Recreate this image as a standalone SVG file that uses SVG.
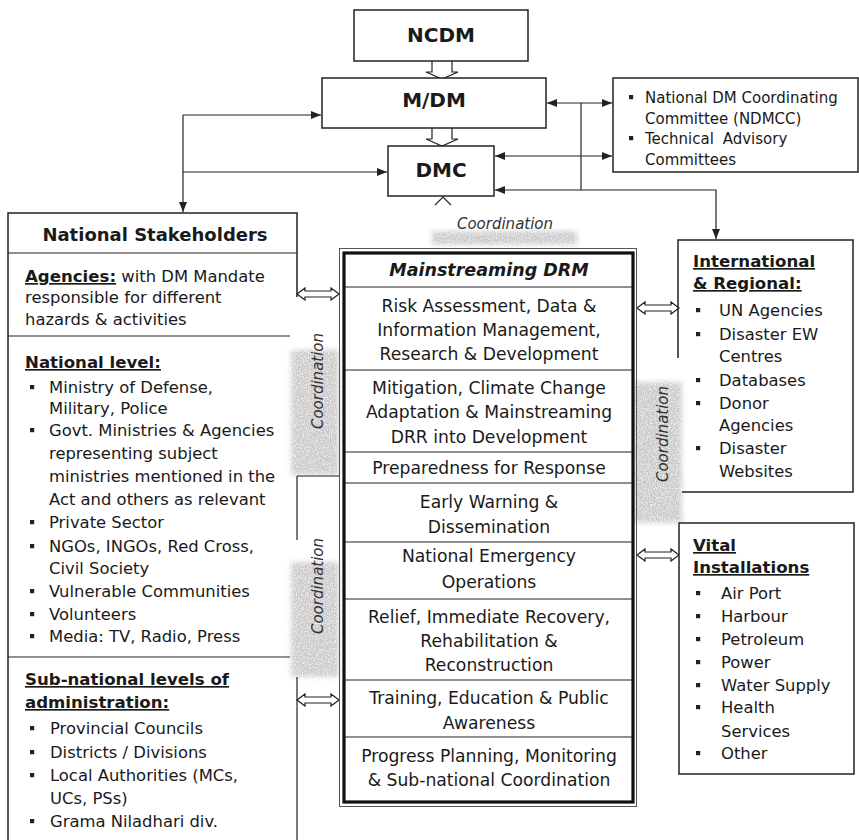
<svg xmlns="http://www.w3.org/2000/svg" width="859" height="840" viewBox="0 0 859 840">
<style>
text{font-family:'DejaVu Sans',Verdana,sans-serif;fill:#1a1a1a}
.box{fill:#fff;stroke:#222;stroke-width:1.5}
.ln{fill:none;stroke:#222;stroke-width:1.2}
.t{font-size:20px;font-weight:bold;text-anchor:middle}
.c{font-size:17.2px;text-anchor:middle}
.s{font-size:16.4px}
.h{font-size:16.6px;font-weight:bold;text-decoration:underline}
.n{font-size:15px}
.co{font-size:15px;font-style:italic;text-anchor:middle;fill:#333}
.sh{fill:#000;filter:url(#speck)}
.dbl{fill:#fff;stroke:#222;stroke-width:1.2}
</style>
<defs>
<filter id="speck" x="-20%" y="-20%" width="140%" height="140%">
<feGaussianBlur in="SourceAlpha" stdDeviation="2.5" result="a"/>
<feTurbulence type="fractalNoise" baseFrequency="0.85" numOctaves="2" seed="4" result="n"/>
<feColorMatrix in="n" type="matrix" values="0 0 0 0 0.58  0 0 0 0 0.58  0 0 0 0 0.58  0 0 0 -2.2 1.9" result="g"/>
<feComposite in="g" in2="a" operator="in"/>
</filter>
<marker id="ah" viewBox="0 0 10 8" refX="10" refY="4" markerWidth="10" markerHeight="8" markerUnits="userSpaceOnUse" orient="auto-start-reverse"><path d="M0,0 L10,4 L0,8 Z" fill="#222"/></marker>
<path id="dbl" d="M0,0 L8,-6 V-3 H34 V-6 L42,0 L34,6 V3 H8 V6 Z"/>
<rect id="b" x="-2" y="-2" width="4.2" height="4.2" fill="#222"/>
</defs>

<!-- shading -->
<g id="shading">
<rect class="sh" x="432" y="231" width="145" height="14"/>
<rect class="sh" x="291" y="350" width="48" height="125"/>
<rect class="sh" x="291" y="562" width="48" height="115"/>
<rect class="sh" x="634" y="382" width="48" height="141"/>
</g>

<g id="connectors">
<path class="ln" d="M183,115 H321" marker-end="url(#ah)"/>
<path class="ln" d="M183,172 H387" marker-end="url(#ah)"/>
<path class="ln" d="M183,115 V212" marker-end="url(#ah)"/>
<path class="ln" d="M547,103 H612" marker-start="url(#ah)" marker-end="url(#ah)"/>
<path class="ln" d="M495,156 H612" marker-start="url(#ah)" marker-end="url(#ah)"/>
<path class="ln" d="M581,103 V190"/>
<path class="ln" d="M495,190 H716 V239" marker-start="url(#ah)" marker-end="url(#ah)"/>
<path class="dbl" d="M432,61 V72 H426 L442,79 L458,72 H452 V61"/>
<path class="dbl" d="M432,128 V139 H426 L442,146 L458,139 H452 V128"/>
<path class="ln" d="M435,205 L443,197 L451,205"/>
<use href="#dbl" class="dbl" x="297" y="294"/>
<use href="#dbl" class="dbl" x="297" y="700"/>
<use href="#dbl" class="dbl" x="637" y="308"/>
<use href="#dbl" class="dbl" x="637" y="555"/>
</g>

<g id="ncdm">
<rect class="box" x="354" y="10" width="174" height="51"/>
<text class="t" x="441" y="42">NCDM</text>
</g>
<g id="mdm">
<rect class="box" x="322" y="78" width="224" height="50"/>
<text class="t" x="434" y="107">M/DM</text>
</g>
<g id="dmc">
<rect class="box" x="388" y="146" width="106" height="50"/>
<text class="t" x="441" y="177">DMC</text>
</g>

<g id="ndmcc">
<rect class="box" x="613" y="78" width="245" height="94"/>
<use href="#b" x="631" y="97"/>
<use href="#b" x="631" y="138"/>
<text class="n" x="645" y="102.5">National DM Coordinating</text>
<text class="n" x="645" y="123.5">Committee (NDMCC)</text>
<text class="n" x="645" y="143.5">Technical <tspan dx="4">Advisory</tspan></text>
<text class="n" x="645" y="164.5">Committees</text>
</g>

<g id="coordination-top">
<text class="co" x="505" y="229">Coordination</text>
</g>

<g id="national-stakeholders">
<path class="ln" d="M8,850 V213 H297 V297" style="stroke-width:1.5"/>
<path class="ln" d="M8,253 H297 M8,336 H290 M8,657 H290"/>
<path class="ln" d="M297,476 H339 M297,476 V540 M297,677 V850"/>
<text x="155" y="241" style="font-size:18px;font-weight:bold;text-anchor:middle">National Stakeholders</text>
<text class="s" x="25" y="282"><tspan class="h">Agencies:</tspan> with DM Mandate</text>
<text class="s" x="25" y="303">responsible for different</text>
<text class="s" x="25" y="325">hazards &amp; activities</text>
<text class="h" x="25" y="368">National level:</text>
<g>
<use href="#b" x="32" y="387"/><use href="#b" x="32" y="430"/><use href="#b" x="32" y="522"/><use href="#b" x="32" y="546"/><use href="#b" x="32" y="591"/><use href="#b" x="32" y="614"/><use href="#b" x="32" y="636"/>
</g>
<text class="s" x="49" y="393">Ministry of Defense,</text>
<text class="s" x="49" y="414">Military, Police</text>
<text class="s" x="49" y="436">Govt. Ministries &amp; Agencies</text>
<text class="s" x="49" y="459">representing subject</text>
<text class="s" x="49" y="482">ministries mentioned in the</text>
<text class="s" x="49" y="505">Act and others as relevant</text>
<text class="s" x="49" y="528">Private Sector</text>
<text class="s" x="49" y="552">NGOs, INGOs, Red Cross,</text>
<text class="s" x="49" y="574">Civil Society</text>
<text class="s" x="49" y="597">Vulnerable Communities</text>
<text class="s" x="49" y="620">Volunteers</text>
<text class="s" x="49" y="642">Media: TV, Radio, Press</text>
<text class="h" x="25" y="685">Sub-national levels of</text>
<text class="h" x="25" y="708">administration:</text>
<g>
<use href="#b" x="32" y="728"/><use href="#b" x="32" y="752"/><use href="#b" x="32" y="775"/><use href="#b" x="32" y="821"/>
</g>
<text class="s" x="50" y="734">Provincial Councils</text>
<text class="s" x="50" y="758">Districts / Divisions</text>
<text class="s" x="50" y="781">Local Authorities (MCs,</text>
<text class="s" x="50" y="804">UCs, PSs)</text>
<text class="s" x="50" y="827">Grama Niladhari div.</text>
</g>

<g id="coordination-left">
<text class="co" transform="translate(323,381) rotate(-90)">Coordination</text>
<text class="co" transform="translate(323,586) rotate(-90)">Coordination</text>
</g>
<g id="coordination-right">
<text class="co" transform="translate(668,434) rotate(-90)">Coordination</text>
</g>

<g id="mainstreaming-drm">
<rect x="339.5" y="248.5" width="297" height="558" fill="none" stroke="#555" stroke-width="1"/>
<rect x="344" y="253" width="289" height="549" fill="#fff" stroke="#111" stroke-width="3.2"/>
<path class="ln" d="M345,287 H632 M345,370 H632 M345,452 H632 M345,483 H632 M345,542 H632 M345,599 H632 M345,680 H632 M345,737 H632"/>
<text x="489" y="276" style="font-size:17.5px;font-weight:bold;font-style:italic;text-anchor:middle">Mainstreaming DRM</text>
<text class="c" x="489" y="312">Risk Assessment, Data &amp;</text>
<text class="c" x="489" y="336">Information Management,</text>
<text class="c" x="489" y="360">Research &amp; Development</text>
<text class="c" x="489" y="394">Mitigation, Climate Change</text>
<text class="c" x="489" y="418">Adaptation &amp; Mainstreaming</text>
<text class="c" x="489" y="443">DRR into Development</text>
<text class="c" x="489" y="474">Preparedness for Response</text>
<text class="c" x="489" y="508">Early Warning &amp;</text>
<text class="c" x="489" y="533">Dissemination</text>
<text class="c" x="489" y="562">National Emergency</text>
<text class="c" x="489" y="588">Operations</text>
<text class="c" x="489" y="623">Relief, Immediate Recovery,</text>
<text class="c" x="489" y="647">Rehabilitation &amp;</text>
<text class="c" x="489" y="671">Reconstruction</text>
<text class="c" x="489" y="704">Training, Education &amp; Public</text>
<text class="c" x="489" y="729">Awareness</text>
<text class="c" x="489" y="762">Progress Planning, Monitoring</text>
<text class="c" x="489" y="786">&amp; Sub-national Coordination</text>
</g>

<g id="international">
<path class="ln" d="M678,358 V240 H853 V492 H682" style="stroke-width:1.5"/>
<text class="h" x="693" y="267">International</text>
<text class="h" x="693" y="289">&amp; Regional:</text>
<use href="#b" x="698" y="310"/><use href="#b" x="698" y="334"/><use href="#b" x="698" y="380"/><use href="#b" x="698" y="403"/><use href="#b" x="698" y="448"/>
<text class="s" x="719" y="316">UN Agencies</text>
<text class="s" x="719" y="340">Disaster EW</text>
<text class="s" x="719" y="362">Centres</text>
<text class="s" x="719" y="386">Databases</text>
<text class="s" x="719" y="409">Donor</text>
<text class="s" x="719" y="431">Agencies</text>
<text class="s" x="719" y="454">Disaster</text>
<text class="s" x="719" y="477">Websites</text>
</g>

<g id="vital">
<rect class="box" x="679" y="523" width="175" height="251"/>
<text class="h" x="693" y="551">Vital</text>
<text class="h" x="693" y="573">Installations</text>
<use href="#b" x="698" y="593"/><use href="#b" x="698" y="616"/><use href="#b" x="698" y="639"/><use href="#b" x="698" y="662"/><use href="#b" x="698" y="685"/><use href="#b" x="698" y="707"/><use href="#b" x="698" y="753"/>
<text class="s" x="721" y="599">Air Port</text>
<text class="s" x="721" y="622">Harbour</text>
<text class="s" x="721" y="645">Petroleum</text>
<text class="s" x="721" y="668">Power</text>
<text class="s" x="721" y="691">Water Supply</text>
<text class="s" x="721" y="713">Health</text>
<text class="s" x="721" y="737">Services</text>
<text class="s" x="721" y="759">Other</text>
</g>
</svg>
